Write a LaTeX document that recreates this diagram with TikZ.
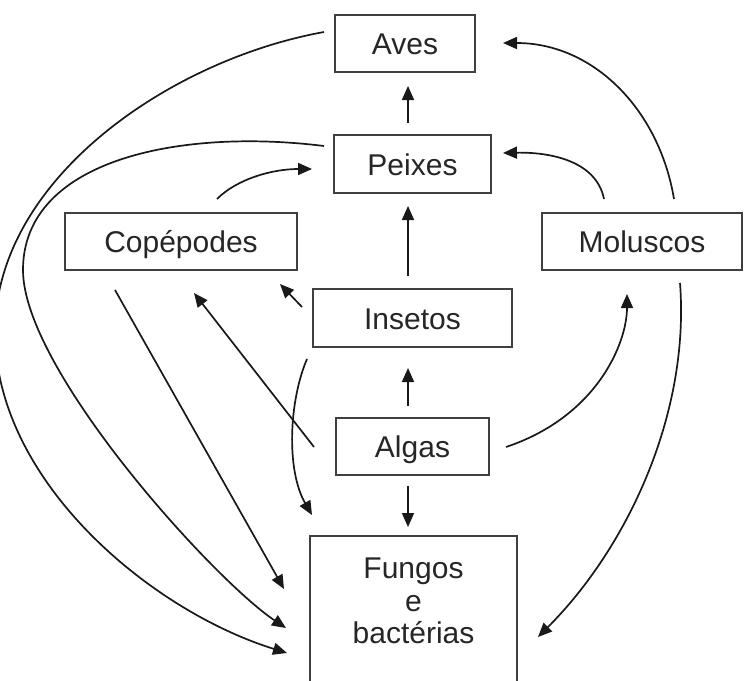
\documentclass[tikz,border=0pt]{standalone}
\usepackage{fontspec}
\setmainfont{Liberation Sans}
\usetikzlibrary{arrows.meta,calc}
\begin{document}
\begin{tikzpicture}[x=1pt,y=-1pt,
  boxbase/.style={draw=black!75, line width=2pt, rectangle, text=black!85, inner sep=0pt},
  box/.style={boxbase, font=\fontsize{30}{36}\selectfont, minimum height=57pt, text height=22pt, text depth=0pt},
  arr/.style={draw=black!90, line width=1.7pt, -{Triangle[length=14pt,width=12pt]}}
]
\useasboundingbox (0,0) rectangle (744,680);
\clip (0,0) rectangle (744,680);
\fill[white] (0,0) rectangle (744,680);

% boxes
\node[box, minimum width=140pt] (aves) at (405,43.5) {Aves};
\node[box, minimum width=157pt, minimum height=58pt] (peixes) at (412.5,164) {Peixes};
\node[box, minimum width=232pt] (cop) at (181,241.5) {Copépodes};
\node[box, minimum width=199pt, minimum height=58pt] (insetos) at (412.5,318) {Insetos};
\node[box, minimum width=200pt] (mol) at (642,241.5) {Moluscos};
\node[box, minimum width=153pt] (algas) at (412.5,446.5) {Algas};
\node[boxbase, minimum width=207pt, anchor=north, align=center, inner ysep=22pt,
      text depth=160pt, font=\fontsize{30}{32.5}\selectfont] (fungos) at (413.5,535) {Fungos\\e\\bactérias};

% bend points of the two long left curves
\coordinate (lwA) at (-5,332);
\coordinate (lwB) at (23,270);

% straight connectors
\draw[arr] ($(peixes.north)+(-4.5,-11)$) -- ($(aves.south)+(3,13)$);
\draw[arr] ($(insetos.north)+(-4.5,-12)$) -- ($(peixes.south)+(-4.5,12)$);
\draw[arr] ($(algas.north)+(-4.5,-11)$) -- ($(insetos.south)+(-4.5,20)$);
\draw[arr] ($(algas.south)+(-4.5,10)$) -- ($(fungos.north)+(-5.5,-8)$);
\draw[arr] ($(insetos.west)+(-10,-11)$) -- ($(cop.south east)+(-18,13)$);
\draw[arr] ($(algas.west)+(-21,0.5)$) -- ($(cop.south)+(13,22)$);
\draw[arr] ($(cop.south)+(-66,19)$) -- ($(fungos.north west)+(-25,54)$);

% curved connectors
\draw[arr] ($(insetos.south west)+(-5,11)$) .. controls +(-18,42) and +(-26,-45) .. ($(fungos.north west)+(3,-20)$);
\draw[arr] ($(algas.east)+(16,0.5)$) .. controls +(90,-30) and +(0,50) .. ($(mol.south)+(-15,23)$);
\draw[arr] ($(mol.south)+(38,12)$) .. controls +(10,130) and +(90,-90) .. ($(fungos.north east)+(20,102)$);
\draw[arr] ($(mol.north)+(-38,-13)$) .. controls +(-8,-40) and +(43,-1) .. ($(peixes.east)+(11,-11)$);
\draw[arr] ($(mol.north)+(32,-13)$) .. controls +(-15,-90) and +(90,0) .. ($(aves.east)+(27,-0.5)$);
\draw[arr] ($(cop.north)+(36,-13)$) .. controls +(20,-20) and +(-40,0) .. ($(peixes.west)+(-21,5)$);
\draw[arr] ($(aves.west)+(-10,-11.5)$) .. controls +(-155,28) and +(0,-152) .. (lwA)
           .. controls +(0,148) and +(-138,-43) .. ($(fungos.north west)+(-22,118)$);
\draw[arr] ($(peixes.west)+(-9,-18)$) .. controls +(-145,-18) and +(0,-110) .. (lwB)
           .. controls +(0,100) and +(-72,-48) .. ($(fungos.north west)+(-23,93)$);
\end{tikzpicture}
\end{document}
